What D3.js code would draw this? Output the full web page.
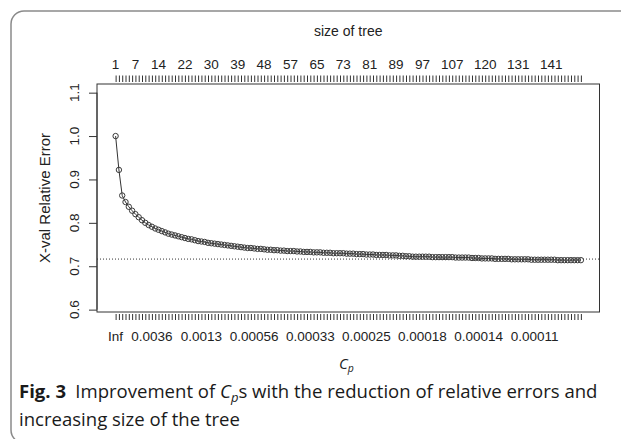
<!DOCTYPE html>
<html>
<head>
<meta charset="utf-8">
<script src="https://cdn.jsdelivr.net/npm/d3@7"></script>
<style>
  html, body { margin: 0; padding: 0; background: #fff; }
  svg { display: block; }
</style>
</head>
<body>
<svg width="621" height="439"></svg>
<script>
// cross-validated relative error, one value per cp row (index 1..142)
const xerror = [
  1.000, 0.922, 0.863, 0.848, 0.837, 0.828, 0.820, 0.813, 0.806, 0.800,
  0.795, 0.791, 0.787, 0.784, 0.781, 0.778, 0.775, 0.773, 0.771, 0.769,
  0.767, 0.765, 0.763, 0.762, 0.760, 0.758, 0.757, 0.756, 0.754, 0.753,
  0.752, 0.751, 0.750, 0.749, 0.748, 0.747, 0.746, 0.745, 0.744, 0.743,
  0.742, 0.742, 0.741, 0.740, 0.740, 0.739, 0.738, 0.738, 0.737, 0.737,
  0.736, 0.736, 0.735, 0.735, 0.735, 0.734, 0.734, 0.733, 0.733, 0.733,
  0.732, 0.732, 0.732, 0.731, 0.731, 0.731, 0.730, 0.730, 0.730, 0.730,
  0.729, 0.729, 0.729, 0.728, 0.728, 0.728, 0.727, 0.727, 0.727, 0.726,
  0.726, 0.726, 0.726, 0.725, 0.725, 0.725, 0.724, 0.724, 0.723, 0.723,
  0.722, 0.722, 0.722, 0.722, 0.722, 0.722, 0.721, 0.721, 0.721, 0.721,
  0.721, 0.721, 0.721, 0.720, 0.720, 0.720, 0.720, 0.720, 0.719, 0.719,
  0.719, 0.718, 0.718, 0.718, 0.718, 0.717, 0.717, 0.717, 0.717, 0.717,
  0.716, 0.716, 0.716, 0.716, 0.716, 0.716, 0.715, 0.715, 0.715, 0.715,
  0.715, 0.715, 0.715, 0.715, 0.714, 0.714, 0.714, 0.714, 0.714, 0.714,
  0.714, 0.714
];
// min xerror + its std
const minLine = 0.7165;
const ylim = [0.614, 1.1005];
const yTicks = [0.6, 0.7, 0.8, 0.9, 1.0, 1.1];

// labels R kept on the axes (index into xerror, label)
const sizeIdx = [1, 7, 14, 22, 30, 38, 46, 54, 62, 70, 78, 86, 94, 103, 113, 123, 133];
const sizeLabels = ["1", "7", "14", "22", "30", "39", "48", "57", "65", "73", "81", "89", "97", "107", "120", "131", "141"];
const cpIdx = [1, 12, 27, 43, 60, 77, 94, 111, 128];
const cpLabels = ["Inf", "0.0036", "0.0013", "0.00056", "0.00033", "0.00025", "0.00018", "0.00014", "0.00011"];

const svg = d3.select("svg");
const box = {left: 97, right: 599.5, top: 84, bottom: 312};
const ink = "#333";
const txt = "#222";
const fs = 13.5;

// card frame
svg.append("rect")
  .attr("x", 11).attr("y", 11).attr("width", 640).attr("height", 432)
  .attr("rx", 13)
  .attr("fill", "none").attr("stroke", "#8a8a8a").attr("stroke-width", 1.5);

const ns = d3.range(1, xerror.length + 1);
const n = ns.length;
// R style 4% expansion
const xpad = (n - 1) * 0.04;
const ypad = (ylim[1] - ylim[0]) * 0.04;
const x = d3.scaleLinear().domain([1 - xpad, n + xpad]).range([box.left, box.right]);
const y = d3.scaleLinear().domain([ylim[0] - ypad, ylim[1] + ypad]).range([box.bottom, box.top]);

const font = "'Liberation Sans', Arial, sans-serif";

// box
svg.append("rect")
  .attr("x", box.left).attr("y", box.top)
  .attr("width", box.right - box.left).attr("height", box.bottom - box.top)
  .attr("fill", "none").attr("stroke", ink).attr("stroke-width", 1);

// top axis: size of tree
const topAxis = svg.append("g").attr("transform", `translate(0,${box.top - 2})`)
  .call(d3.axisTop(x).tickValues(ns).tickSize(6.5).tickFormat(""));
topAxis.select(".domain").remove();
topAxis.selectAll("line").attr("stroke", ink);
svg.append("g").selectAll("text").data(sizeIdx).join("text")
  .attr("x", d => x(d)).attr("y", 68.5)
  .attr("text-anchor", "middle")
  .attr("font-family", font).attr("font-size", fs).attr("fill", txt)
  .text((d, i) => sizeLabels[i]);
svg.append("text")
  .attr("x", (box.left + box.right) / 2).attr("y", 36)
  .attr("text-anchor", "middle")
  .attr("font-family", font).attr("font-size", 14).attr("fill", txt)
  .text("size of tree");

// bottom axis: cp
const botAxis = svg.append("g").attr("transform", `translate(0,${box.bottom + 2})`)
  .call(d3.axisBottom(x).tickValues(ns).tickSize(6).tickFormat(""));
botAxis.select(".domain").remove();
botAxis.selectAll("line").attr("stroke", ink);
svg.append("g").selectAll("text").data(cpIdx).join("text")
  .attr("x", d => x(d)).attr("y", 341)
  .attr("text-anchor", "middle")
  .attr("font-family", font).attr("font-size", fs).attr("fill", txt)
  .text((d, i) => cpLabels[i]);

// left axis
const leftAxis = svg.append("g").attr("transform", `translate(${box.left},0)`)
  .call(d3.axisLeft(y).tickValues(yTicks).tickSize(8).tickFormat(""));
leftAxis.select(".domain").attr("d", `M0,${y(0.6)}V${y(1.1)}`).attr("stroke", ink);
leftAxis.selectAll("line").attr("stroke", ink);
svg.append("g").selectAll("text").data(yTicks).join("text")
  .attr("transform", d => `translate(79,${y(d)}) rotate(-90)`)
  .attr("text-anchor", "middle")
  .attr("font-family", font).attr("font-size", fs).attr("fill", txt)
  .text(d => d.toFixed(1));
svg.append("text")
  .attr("transform", `translate(50,${(box.top + box.bottom) / 2}) rotate(-90)`)
  .attr("text-anchor", "middle")
  .attr("font-family", font).attr("font-size", 15).attr("fill", txt)
  .text("X-val Relative Error");

// min line
svg.append("line")
  .attr("x1", box.left).attr("x2", box.right)
  .attr("y1", y(minLine)).attr("y2", y(minLine))
  .attr("stroke", ink).attr("stroke-width", 1).attr("stroke-dasharray", "1,2");

// curve
svg.append("path")
  .datum(xerror)
  .attr("fill", "none").attr("stroke", ink).attr("stroke-width", 1)
  .attr("d", d3.line().x((d, i) => x(i + 1)).y(d => y(d)));
svg.append("g").selectAll("circle").data(xerror).join("circle")
  .attr("cx", (d, i) => x(i + 1)).attr("cy", d => y(d)).attr("r", 2.7)
  .attr("fill", "none").attr("stroke", "#3a3a3a").attr("stroke-width", 1);

// x label C_p
const cap = "'Open Sans', 'Noto Sans', sans-serif";
const cpT = svg.append("text")
  .attr("x", 339).attr("y", 369)
  .attr("font-family", cap).attr("font-style", "italic").attr("font-size", 15).attr("fill", txt);
cpT.append("tspan").text("C");
cpT.append("tspan").attr("dy", 3).attr("font-size", 10.5).text("p");

// caption: size fitted so the first line spans like the reference
const l1 = svg.append("text")
  .attr("x", 19).attr("y", 398)
  .attr("font-family", cap).attr("font-size", 20).attr("fill", "#1a1a1a");
l1.append("tspan").attr("font-weight", "bold").text("Fig. 3");
l1.append("tspan").text("\u2002Improvement of ");
l1.append("tspan").attr("font-style", "italic").text("C");
const sub = l1.append("tspan").attr("font-style", "italic").attr("dy", 4).text("p");
l1.append("tspan").attr("dy", -4).text("s with the reduction of relative errors and");
const capSize = 20 * 582 / l1.node().getComputedTextLength();
l1.attr("font-size", capSize);
sub.attr("font-size", capSize * 0.7);

svg.append("text")
  .attr("x", 19).attr("y", 426)
  .attr("font-family", cap).attr("font-size", capSize).attr("fill", "#1a1a1a")
  .text("increasing size of the tree");
</script>
</body>
</html>
